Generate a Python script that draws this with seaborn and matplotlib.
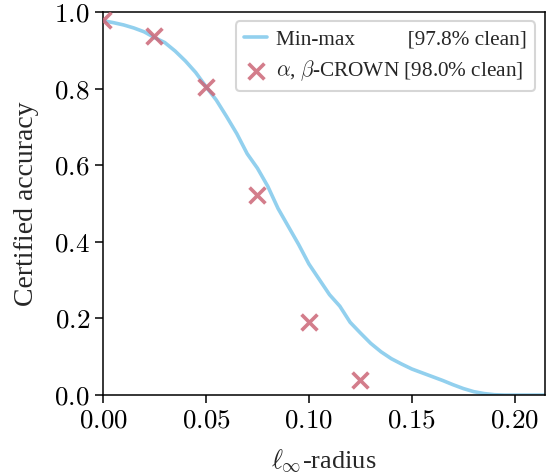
import matplotlib
matplotlib.use("Agg")
import matplotlib.pyplot as plt
import seaborn as sns
import pandas as pd

# min-max certified accuracy curve
radius = [0.000, 0.005, 0.010, 0.015, 0.020, 0.025, 0.030, 0.035, 0.040, 0.045,
          0.050, 0.055, 0.060, 0.065, 0.070, 0.075, 0.080, 0.085, 0.090, 0.095,
          0.100, 0.105, 0.110, 0.115, 0.120, 0.125, 0.130, 0.135, 0.140, 0.145,
          0.150, 0.155, 0.160, 0.165, 0.170, 0.175, 0.180, 0.185, 0.190, 0.195,
          0.215]
minmax_acc = [0.977, 0.972, 0.966, 0.958, 0.948, 0.933, 0.920, 0.898, 0.872, 0.842,
              0.805, 0.770, 0.727, 0.682, 0.630, 0.592, 0.545, 0.487, 0.440, 0.393,
              0.342, 0.302, 0.262, 0.232, 0.190, 0.162, 0.135, 0.113, 0.095, 0.081,
              0.068, 0.058, 0.048, 0.038, 0.027, 0.017, 0.009, 0.004, 0.001, 0.000,
              0.000]

# alpha,beta-CROWN points
crown_radius = [0.000, 0.025, 0.050, 0.075, 0.100, 0.125]
crown_acc = [0.980, 0.937, 0.805, 0.522, 0.190, 0.040]

sns.set_theme(style="ticks")
plt.rcParams["font.family"] = ["Liberation Serif", "DejaVu Serif"]
plt.rcParams["mathtext.fontset"] = "cm"

df_curve = pd.DataFrame({"radius": radius, "acc": minmax_acc})
df_crown = pd.DataFrame({"radius": crown_radius, "acc": crown_acc})

fig = plt.figure(figsize=(5.49, 4.76), dpi=100)
ax = fig.add_axes([0.1876, 0.170, 0.805, 0.805])

sns.lineplot(data=df_curve, x="radius", y="acc", ax=ax, color="#92D0EE",
             linewidth=2.6, label="Min-max         \u2009[97.8% clean]")
sns.scatterplot(data=df_crown, x="radius", y="acc", ax=ax, color="#CC6677",
                marker="x", s=130, linewidth=2.6, alpha=0.85, zorder=3,
                label=r"$\alpha$, $\beta$-CROWN [98.0% clean]")

ax.set_xlim(0, 0.2146)
ax.set_ylim(0, 1.0)
ax.set_xticks([0.0, 0.05, 0.10, 0.15, 0.20])
ax.set_xticklabels([r"$0.00$", r"$0.05$", r"$0.10$", r"$0.15$", r"$0.20$"])
ax.set_yticks([0.0, 0.2, 0.4, 0.6, 0.8, 1.0])
ax.set_yticklabels([r"$0.0$", r"$0.2$", r"$0.4$", r"$0.6$", r"$0.8$", r"$1.0$"])
ax.tick_params(labelsize=19.5, length=6, width=1.1, colors="black")
for s in ax.spines.values():
    s.set_linewidth(1.1)
    s.set_color("black")

ax.set_xlabel(r"$\ell_\infty$-radius", fontsize=19, labelpad=10)
ax.set_ylabel("Certified accuracy", fontsize=20, labelpad=11)

leg = ax.legend(loc="upper right", fontsize=15.3, frameon=True, fancybox=True,
                handlelength=1.1, handletextpad=0.4, borderpad=0.4,
                labelspacing=0.4, borderaxespad=0.45)
leg.get_frame().set_edgecolor("#cccccc")
leg.get_frame().set_linewidth(1.5)

fig.savefig("out.png", dpi=100)
